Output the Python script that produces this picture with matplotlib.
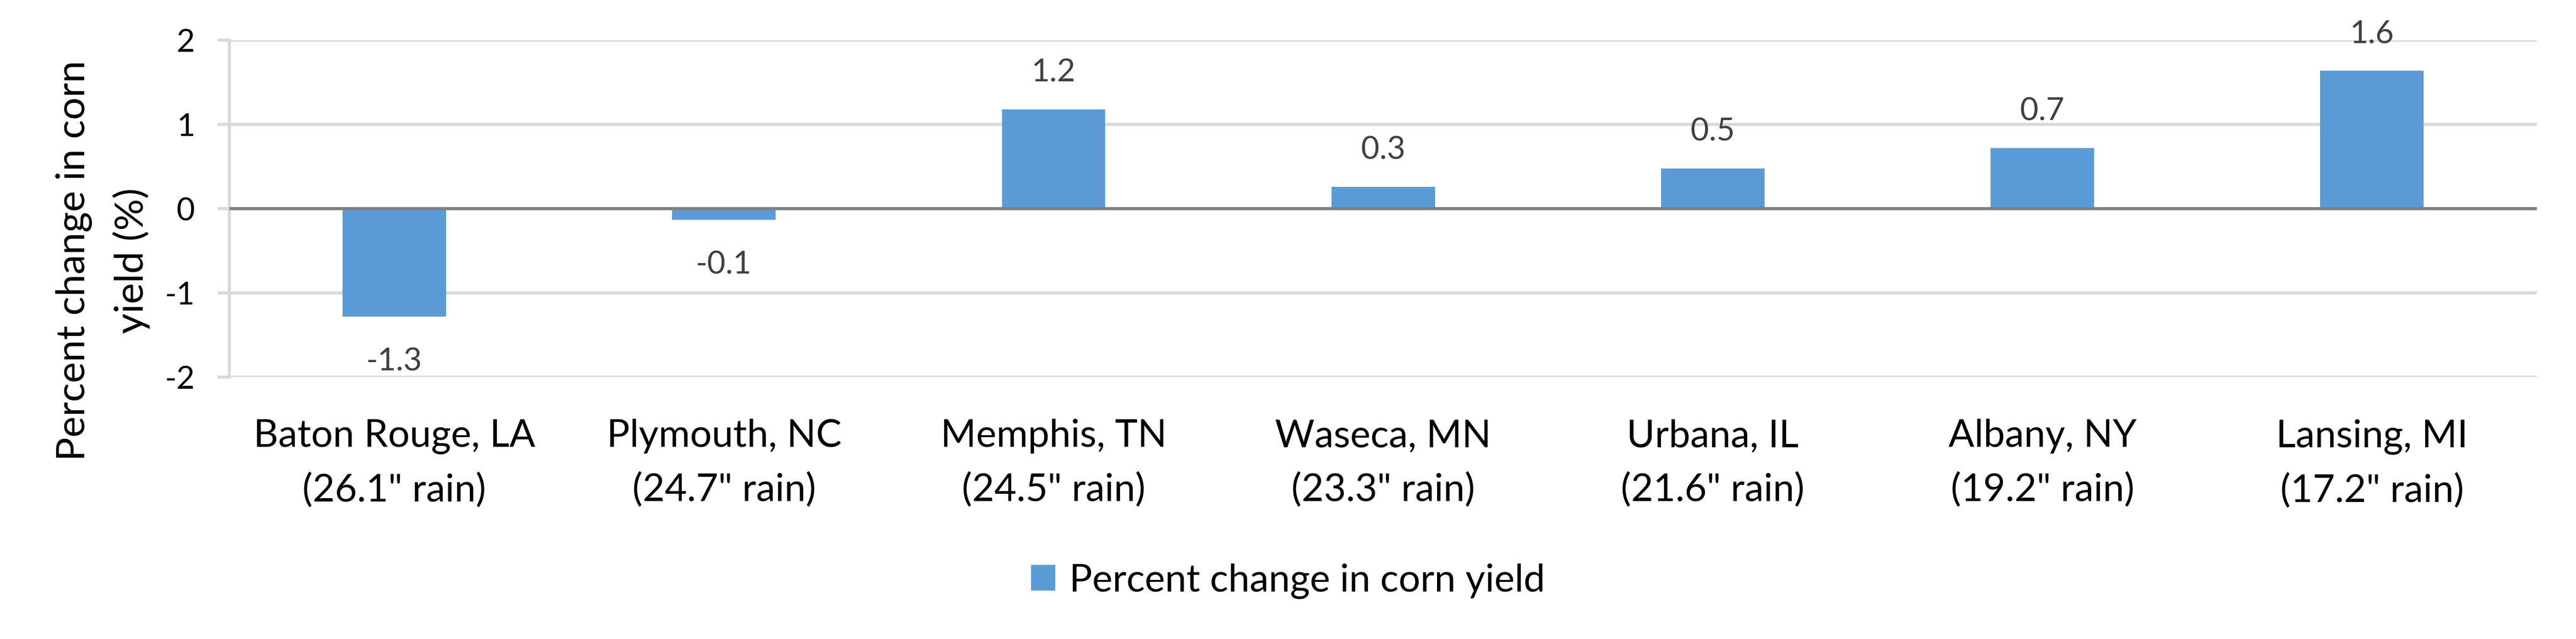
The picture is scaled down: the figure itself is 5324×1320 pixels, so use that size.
import matplotlib
matplotlib.use('Agg')
import matplotlib.pyplot as plt
import numpy as np

plt.rcParams['font.family'] = ['Lato', 'DejaVu Sans']
plt.rcParams['axes.unicode_minus'] = False

# data
sites = ['Baton Rouge, LA', 'Plymouth, NC', 'Memphis, TN', 'Waseca, MN',
         'Urbana, IL', 'Albany, NY', 'Lansing, MI']
rain = [26.1, 24.7, 24.5, 23.3, 21.6, 19.2, 17.2]
yield_change = [-1.28, -0.13, 1.18, 0.26, 0.48, 0.72, 1.64]
y_ticks = [-2, -1, 0, 1, 2]

bar_color = '#5B9BD5'
grid_color = '#D9D9D9'

fig = plt.figure(figsize=(26.62, 6.6), dpi=200)
ax = fig.add_axes([0.0891, 0.4098, 0.9848 - 0.0891, 0.9371 - 0.4098])

x = np.arange(len(sites))
ax.bar(x, yield_change, width=0.314, color=bar_color, zorder=2, label='Percent change in corn yield')
ax.axhline(0, color='#808080', lw=2.3, zorder=3)

ax.set_xlim(-0.5, len(sites) - 0.5)
ax.set_ylim(-2, 2)
ax.set_yticks(y_ticks)
ax.grid(axis='y', color=grid_color, lw=2.3, zorder=0)
ax.set_axisbelow(True)

for side in ['top', 'right', 'bottom']:
    ax.spines[side].set_visible(False)
ax.spines['left'].set_color(grid_color)
ax.spines['left'].set_linewidth(2.3)

ax.tick_params(axis='y', length=8.6, width=2.3, color=grid_color, pad=17,
               labelsize=23.6, labelcolor='black')
ax.set_xticks(x)
ax.set_xticklabels([f'{s}\n({r}" rain)' for s, r in zip(sites, rain)],
                   fontsize=28.5, linespacing=1.65)
ax.tick_params(axis='x', length=0, pad=31)

# data labels
for xi, v in zip(x, yield_change):
    if v >= 0:
        ax.annotate(f'{v:.1f}', xy=(xi, v), xytext=(0, 20.5), textcoords='offset points',
                    ha='center', va='baseline', fontsize=23.6, color='#404040')
    else:
        ax.annotate(f'{v:.1f}', xy=(xi, v), xytext=(0, -23), textcoords='offset points',
                    ha='center', va='top', fontsize=23.6, color='#404040')

fig.text(0.040, 0.5924, 'Percent change in corn\nyield (%)', rotation=90,
         ha='center', va='center', multialignment='center', fontsize=29.5,
         linespacing=1.65)

fig.legend(loc='center', bbox_to_anchor=(0.5, 0.0909), frameon=False, fontsize=28.5,
           handlelength=0.64, handleheight=0.64, handletextpad=0.36, borderpad=0)

fig.savefig('out.png', dpi=200, facecolor='white')
